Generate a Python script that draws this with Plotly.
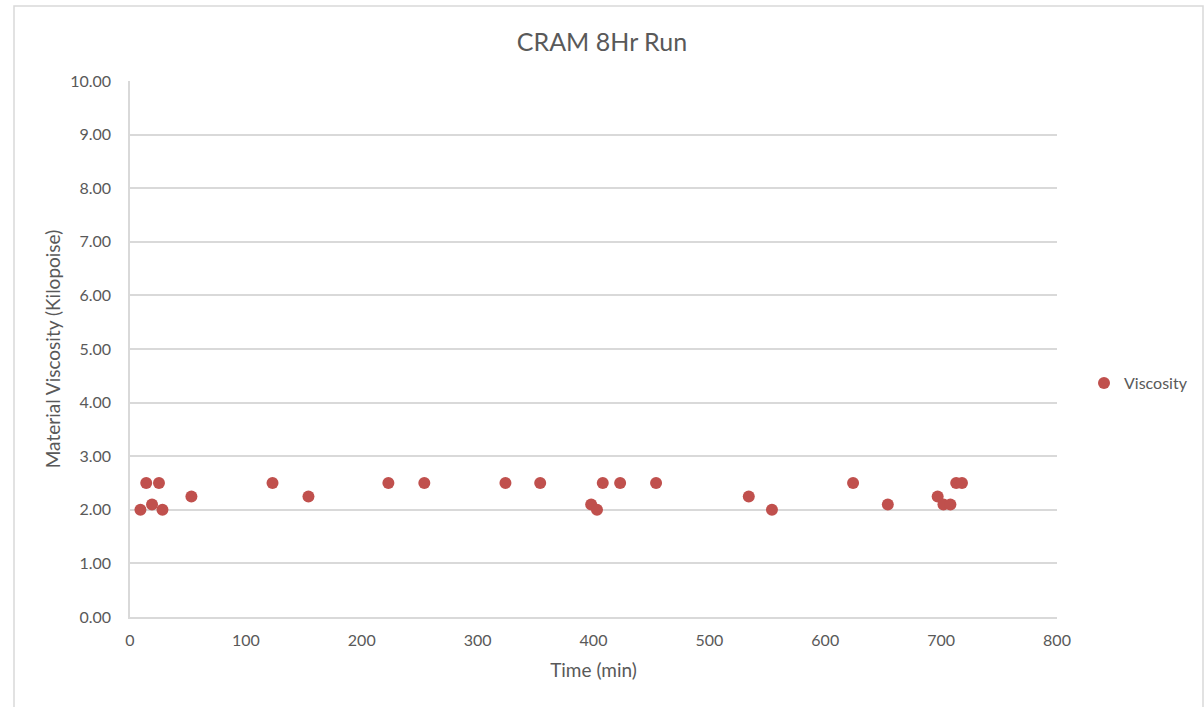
import plotly.graph_objects as go

time_min = [9, 14, 19, 25, 28, 53, 123, 154, 223, 254, 324, 354, 398, 403, 408, 423, 454,
            534, 554, 624, 654, 697, 702, 708, 713, 718]
viscosity = [2.0, 2.5, 2.1, 2.5, 2.0, 2.25, 2.5, 2.25, 2.5, 2.5, 2.5, 2.5, 2.1, 2.0, 2.5, 2.5, 2.5,
             2.25, 2.0, 2.5, 2.1, 2.25, 2.1, 2.1, 2.5, 2.5]
x_ticks = [0, 100, 200, 300, 400, 500, 600, 700, 800]
y_ticks = [0, 1, 2, 3, 4, 5, 6, 7, 8, 9, 10]

FONT = "Lato, Calibri, Carlito, sans-serif"
GRID = "#d9d9d9"
TXT = "#595959"

fig = go.Figure()
fig.add_trace(go.Scatter(
    x=time_min, y=viscosity, mode="markers", name="Viscosity",
    marker=dict(color="#c0504d", size=12, line=dict(width=0)),
))

L, R, T, B = 130, 147, 81, 90
W, H = 1204, 707
pw, ph = W - L - R, H - T - B

fig.update_layout(
    width=W, height=H,
    margin=dict(l=L, r=R, t=T, b=B, pad=0, autoexpand=False),
    paper_bgcolor="white", plot_bgcolor="white",
    font=dict(family=FONT, size=16, color=TXT),
    title=dict(text="CRAM 8Hr Run", x=0.5, xanchor="center", y=1 - 42 / H, yanchor="middle",
               font=dict(family=FONT, size=25, color=TXT)),
    showlegend=True,
    legend=dict(x=1 + (1084 - (W - R)) / pw, y=(617 - 383) / ph,
                xanchor="left", yanchor="middle", font=dict(family=FONT, size=16, color=TXT),
                bgcolor="rgba(0,0,0,0)", itemsizing="constant", itemwidth=30),
    xaxis=dict(range=[0, 800], tickvals=x_ticks, ticktext=[str(v) for v in x_ticks],
               showgrid=False, zeroline=False, showline=True, linecolor=GRID, linewidth=1.5,
               ticks="", ticklabelstandoff=8,
               title=dict(text="Time (min)", standoff=16, font=dict(family=FONT, size=19, color=TXT))),
    yaxis=dict(range=[0, 10], tickvals=y_ticks, ticktext=[f"{v:.2f}" for v in y_ticks],
               showgrid=True, gridcolor=GRID, gridwidth=1.5, zeroline=False,
               showline=True, linecolor=GRID, linewidth=1.5, ticks="", ticklabelstandoff=14,
               title=dict(text="Material Viscosity (Kilopoise)", standoff=4,
                          font=dict(family=FONT, size=19, color=TXT))),
    shapes=[dict(type="rect", xref="paper", yref="paper",
                 x0=(14 - L) / pw, x1=(1203 - L) / pw,
                 y0=(617 - 712) / ph, y1=(617 - 6) / ph,
                 line=dict(color=GRID, width=1.5), fillcolor="rgba(0,0,0,0)", layer="below")],
)

fig.write_html("out.html")
